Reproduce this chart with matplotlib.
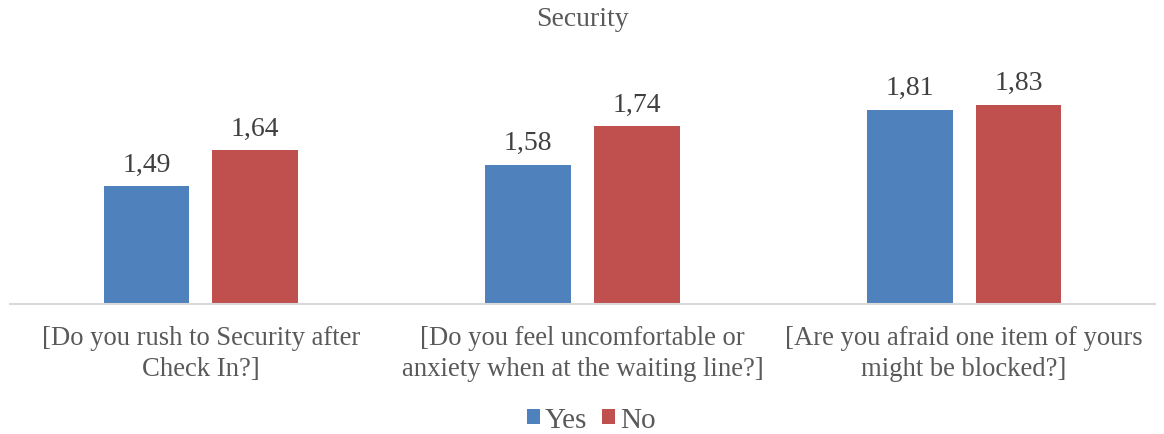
import matplotlib
matplotlib.use("Agg")
import matplotlib.pyplot as plt
import numpy as np

categories = ["[Do you rush to Security after\nCheck In?]",
              "[Do you feel uncomfortable or\nanxiety when at the waiting line?]",
              "[Are you afraid one item of yours\nmight be blocked?]"]
yes_vals = [1.49, 1.58, 1.81]
no_vals = [1.64, 1.74, 1.83]
series_names = ["Yes", "No"]
labels_yes = ["1,49", "1,58", "1,81"]
labels_no = ["1,64", "1,74", "1,83"]

plt.rcParams['font.family'] = ['Liberation Serif', 'DejaVu Serif']
txt = '#595959'

fig = plt.figure(figsize=(11.64, 4.35), dpi=100)
ax = fig.add_axes([10/1164, 130/435, 1145/1164, 240/435])
x = np.arange(len(categories))
w = 0.225
gap = 0.06
b1 = ax.bar(x - (w + gap)/2, [v - 1 for v in yes_vals], w, bottom=1, color='#4F81BD', label=series_names[0])
b2 = ax.bar(x + (w + gap)/2, [v - 1 for v in no_vals], w, bottom=1, color='#C0504D', label=series_names[1])
for xi, v, l in zip(x - (w + gap)/2, yes_vals, labels_yes):
    ax.text(xi, v + 0.04, l, ha='center', va='bottom', fontsize=20, color='#404040')
for xi, v, l in zip(x + (w + gap)/2, no_vals, labels_no):
    ax.text(xi, v + 0.04, l, ha='center', va='bottom', fontsize=20, color='#404040')

ax.set_xlim(-0.5, 2.5)
ax.set_ylim(1, 2)
for s in ['top', 'right', 'left']:
    ax.spines[s].set_visible(False)
ax.spines['bottom'].set_color('#D9D9D9')
ax.spines['bottom'].set_linewidth(1.5)
ax.set_yticks([])
ax.set_xticks(x)
ax.set_xticklabels(categories, fontsize=19.2, color=txt, linespacing=1.32)
ax.tick_params(axis='x', length=0, pad=15)

fig.text(0.5, 1 - 20/435, "Security", ha='center', va='center', fontsize=20, color=txt)
fig.legend(handles=[b1, b2], labels=series_names, loc='center', bbox_to_anchor=(591/1164, 1 - 421/435),
           ncol=2, frameon=False, fontsize=21, handlelength=0.45, handleheight=0.45,
           handletextpad=0.17, columnspacing=0.5, labelcolor=txt)

fig.savefig("out.png", dpi=100)
